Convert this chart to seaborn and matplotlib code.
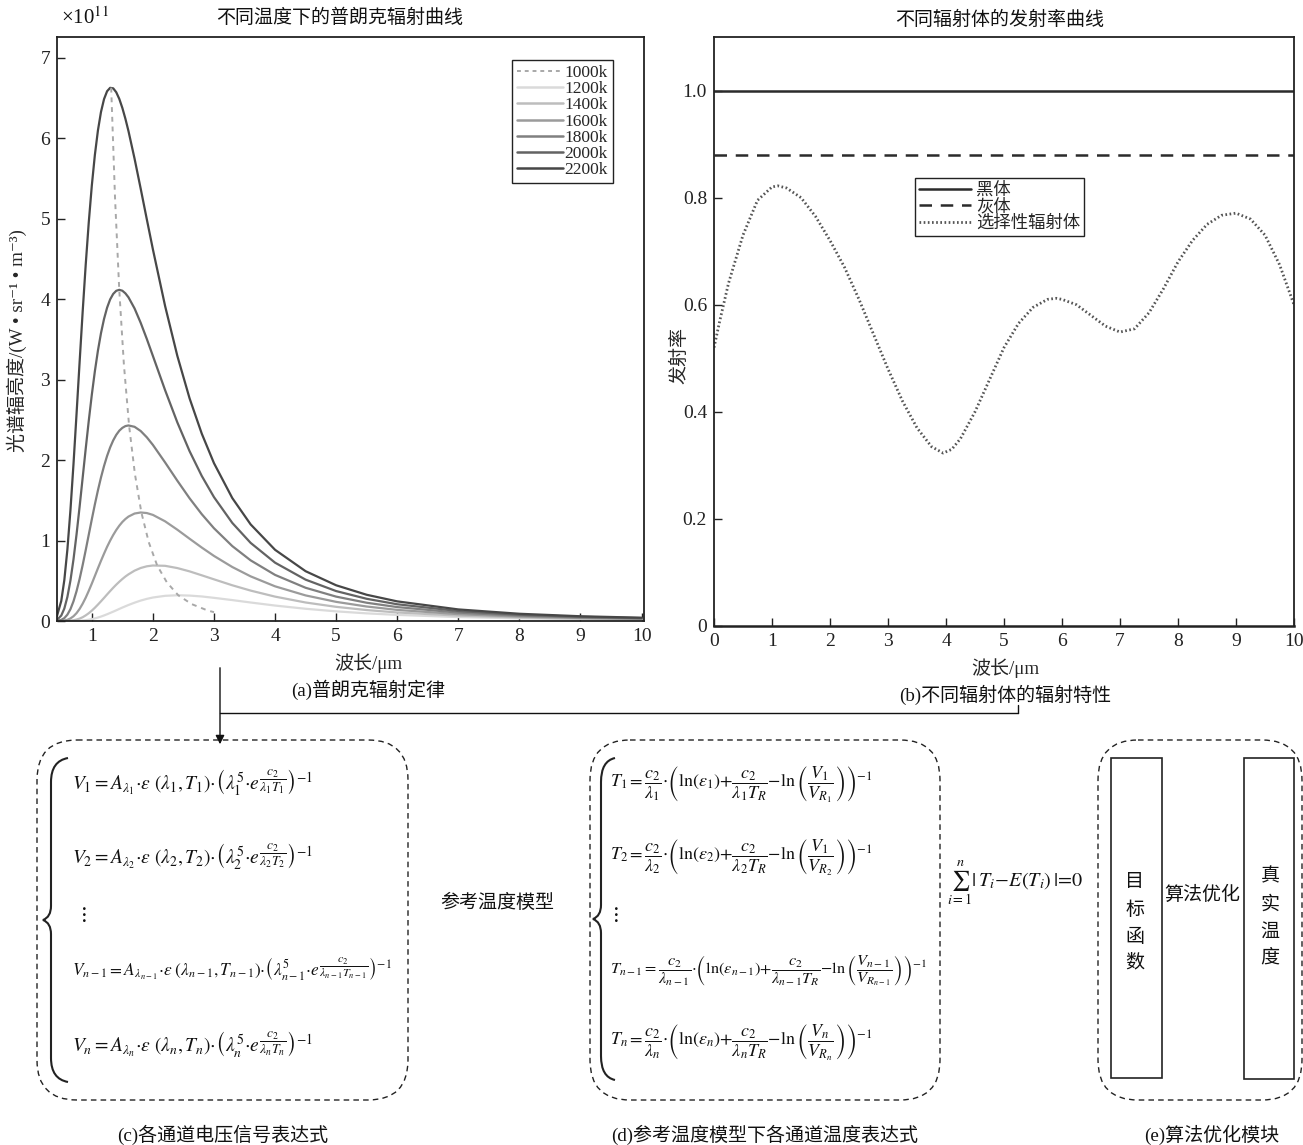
import matplotlib
matplotlib.use("Agg")
import matplotlib.pyplot as plt
import pandas as pd
import seaborn as sns
from matplotlib.lines import Line2D
from matplotlib.patches import FancyBboxPatch, PathPatch, Rectangle
from matplotlib.path import Path

# ---- values ----
# (a) spectral radiance curves, x10^11, wavelength in um
wavelength = [0.43, 0.5, 0.55, 0.6, 0.65, 0.7, 0.75, 0.8, 0.85, 0.9, 0.95, 1.0, 1.05, 1.1, 1.15,
              1.2, 1.25, 1.3, 1.35, 1.4, 1.45, 1.5, 1.55, 1.6, 1.7, 1.8, 1.9, 2.0, 2.2, 2.4, 2.6,
              2.8, 3.0, 3.3, 3.6, 4.0, 4.5, 5.0, 5.5, 6.0, 7.0, 8.0, 9.0, 10.0]
temps = ["1200k", "1400k", "1600k", "1800k", "2000k", "2200k"]
rad_1200 = [0.000, 0.000, 0.000, 0.000, 0.000, 0.001, 0.002, 0.004, 0.006, 0.010, 0.016, 0.023,
            0.032, 0.043, 0.055, 0.069, 0.084, 0.100, 0.116, 0.133, 0.150, 0.167, 0.183, 0.199,
            0.228, 0.254, 0.275, 0.292, 0.313, 0.320, 0.316, 0.305, 0.288, 0.260, 0.230, 0.192,
            0.152, 0.120, 0.095, 0.076, 0.049, 0.033, 0.023, 0.016]
rad_1400 = [0.000, 0.000, 0.001, 0.002, 0.004, 0.009, 0.018, 0.030, 0.047, 0.070, 0.097, 0.129,
            0.165, 0.204, 0.245, 0.287, 0.330, 0.372, 0.413, 0.452, 0.488, 0.522, 0.553, 0.580,
            0.626, 0.659, 0.680, 0.690, 0.686, 0.658, 0.617, 0.568, 0.518, 0.444, 0.378, 0.303,
            0.230, 0.176, 0.136, 0.106, 0.067, 0.044, 0.030, 0.021]
rad_1600 = [0.000, 0.002, 0.006, 0.015, 0.032, 0.059, 0.098, 0.150, 0.215, 0.290, 0.375, 0.465,
            0.560, 0.655, 0.748, 0.837, 0.922, 0.999, 1.069, 1.131, 1.185, 1.231, 1.268, 1.298,
            1.336, 1.349, 1.342, 1.319, 1.239, 1.135, 1.023, 0.913, 0.809, 0.671, 0.555, 0.431,
            0.318, 0.238, 0.180, 0.138, 0.085, 0.055, 0.037, 0.026]
rad_1800 = [0.002, 0.014, 0.036, 0.079, 0.147, 0.245, 0.371, 0.523, 0.695, 0.881, 1.073, 1.264,
            1.450, 1.624, 1.784, 1.927, 2.052, 2.158, 2.245, 2.314, 2.366, 2.401, 2.423, 2.431,
            2.414, 2.362, 2.284, 2.189, 1.971, 1.744, 1.526, 1.328, 1.153, 0.931, 0.754, 0.573,
            0.413, 0.303, 0.227, 0.173, 0.104, 0.067, 0.044, 0.031]
rad_2000 = [0.014, 0.068, 0.155, 0.299, 0.503, 0.766, 1.077, 1.420, 1.780, 2.141, 2.489, 2.813,
            3.105, 3.361, 3.578, 3.755, 3.895, 3.998, 4.066, 4.105, 4.117, 4.106, 4.073, 4.024,
            3.885, 3.707, 3.507, 3.295, 2.869, 2.469, 2.112, 1.803, 1.540, 1.219, 0.971, 0.725,
            0.514, 0.372, 0.276, 0.208, 0.124, 0.078, 0.052, 0.036]
rad_2200 = [0.063, 0.250, 0.509, 0.888, 1.377, 1.950, 2.575, 3.217, 3.843, 4.429, 4.956, 5.413,
            5.794, 6.098, 6.328, 6.488, 6.586, 6.628, 6.622, 6.573, 6.490, 6.378, 6.243, 6.091,
            5.747, 5.375, 4.995, 4.620, 3.915, 3.296, 2.769, 2.329, 1.962, 1.528, 1.201, 0.885,
            0.619, 0.444, 0.326, 0.244, 0.144, 0.090, 0.059, 0.041]
# dashed "1000k" line through the peaks
peak_wl = [1.317, 1.380, 1.449, 1.525, 1.610, 1.705, 1.811, 1.932, 2.070, 2.229, 2.415, 2.635, 2.898, 3.0]
peak_val = [6.63, 5.26, 4.12, 3.19, 2.43, 1.83, 1.35, 0.98, 0.69, 0.48, 0.32, 0.21, 0.13, 0.11]

# (b) emissivity curves
emis_range = [0, 10]
emis_black = [1.0, 1.0]
emis_grey = [0.88, 0.88]
emis_x = [0, 0.1, 0.25, 0.5, 0.75, 1.0, 1.1, 1.25, 1.5, 1.75, 2.0, 2.25, 2.5, 2.75, 3.0, 3.25, 3.5,
          3.75, 3.95, 4.1, 4.25, 4.5, 4.75, 5.0, 5.25, 5.5, 5.75, 5.9, 6.0, 6.25, 6.5, 6.75, 7.0,
          7.25, 7.5, 7.75, 8.0, 8.25, 8.5, 8.75, 9.0, 9.25, 9.5, 9.75, 10.0]
emis_selective = [0.52, 0.57, 0.64, 0.73, 0.795, 0.82, 0.822, 0.818, 0.80, 0.765, 0.72, 0.67, 0.61,
                  0.545, 0.48, 0.42, 0.37, 0.335, 0.323, 0.33, 0.35, 0.40, 0.46, 0.52, 0.565, 0.595,
                  0.61, 0.612, 0.61, 0.60, 0.58, 0.56, 0.549, 0.555, 0.585, 0.63, 0.68, 0.72, 0.75,
                  0.767, 0.771, 0.76, 0.73, 0.675, 0.60]

sns.set_theme(style="ticks")
plt.rcParams["font.family"] = ["Liberation Serif", "Noto Sans CJK SC", "DejaVu Sans"]
plt.rcParams["mathtext.fontset"] = "stix"
plt.rcParams["axes.unicode_minus"] = False

W, H = 1303, 1145
fig = plt.figure(figsize=(W / 100, H / 100), dpi=100)
FS = 13.7


# axes rectangle from pixel corners
def px_rect(x0, y0, x1, y1):
    return [x0 / W, 1 - y1 / H, (x1 - x0) / W, (y1 - y0) / H]


def style_axes(ax):
    ax.tick_params(direction="in", length=6, width=1, labelsize=14, top=False, right=False,
                   colors="#222222", pad=5)
    for s in ax.spines.values():
        s.set_linewidth(1.3)
        s.set_color("#222222")


# ---- (a) Planck curves ----
ax1 = fig.add_axes(px_rect(57, 37, 644, 621))
grays = {"1200k": "#dadada", "1400k": "#bdbdbd", "1600k": "#9b9b9b",
         "1800k": "#808080", "2000k": "#636363", "2200k": "#474747"}
planck = pd.DataFrame({
    "wl": wavelength * len(temps),
    "val": rad_1200 + rad_1400 + rad_1600 + rad_1800 + rad_2000 + rad_2200,
    "T": [t for t in temps for _ in wavelength],
})
sns.lineplot(data=planck, x="wl", y="val", hue="T", palette=grays, lw=1.6, ax=ax1,
             legend=False, estimator=None, sort=False)
sns.lineplot(x=peak_wl, y=peak_val, ax=ax1, color="#a8a8a8", lw=1.4, ls=(0, (2.5, 2.5)),
             estimator=None, zorder=5)
ax1.set_xlim(0.43, 10.04)
ax1.set_ylim(0, 7.26)
ax1.set_xticks(range(1, 11))
ax1.set_yticks(range(0, 8))
style_axes(ax1)
ax1.set_xlabel("波长/μm", fontsize=FS)
ax1.xaxis.set_label_coords(0.53, -0.055)
ax1.set_ylabel("光谱辐亮度/(W • sr⁻¹ • m⁻³)", fontsize=FS)
ax1.yaxis.set_label_coords(-0.051, 0.48)

handles = [Line2D([], [], color="#a8a8a8", lw=1.4, ls=(0, (2, 2)))]
handles += [Line2D([], [], color=grays[t], lw=1.8) for t in temps]
leg = ax1.legend(handles, ["1000k"] + temps, loc="upper right", bbox_to_anchor=(0.947, 0.961),
                 fontsize=12.5, fancybox=False, edgecolor="#222222", framealpha=1,
                 labelspacing=0.0, handlelength=2.6, handletextpad=0.1, borderpad=0.3,
                 borderaxespad=0)
leg.get_frame().set_linewidth(1.0)

# ---- (b) emissivity ----
ax2 = fig.add_axes(px_rect(714, 37, 1294, 626))
sns.lineplot(x=emis_range, y=emis_black, ax=ax2, color="#2b2b2b", lw=1.8, label="黑体")
sns.lineplot(x=emis_range, y=emis_grey, ax=ax2, color="#2b2b2b", lw=1.8, ls=(0, (5, 3.5)),
             label="灰体")
sns.lineplot(x=emis_x, y=emis_selective, ax=ax2, color="#555555", lw=2.0, ls=(0, (0.6, 0.9)),
             label="选择性辐射体", estimator=None, sort=False)
ax2.set_xlim(0, 10)
ax2.set_ylim(0, 1.1)
ax2.set_xticks(range(0, 11))
ax2.set_yticks([0, 0.2, 0.4, 0.6, 0.8, 1.0])
ax2.set_yticklabels(["0", "0.2", "0.4", "0.6", "0.8", "1.0"])
style_axes(ax2)
ax2.spines["bottom"].set_linewidth(1.8)
ax2.set_xlabel("波长/μm", fontsize=FS)
ax2.xaxis.set_label_coords(0.502, -0.054)
ax2.set_ylabel("发射率", fontsize=FS)
ax2.yaxis.set_label_coords(-0.045, 0.46)
leg2 = ax2.legend(loc="upper left", bbox_to_anchor=(0.3466, 0.7606), fontsize=12.5,
                  fancybox=False, edgecolor="#222222", framealpha=1, labelspacing=0.0,
                  handlelength=3.0, handletextpad=0.25, borderpad=0.25, borderaxespad=0)
leg2.get_frame().set_linewidth(1.0)

# ---- overlay in pixel coordinates for captions and the diagram ----
bg = fig.add_axes([0, 0, 1, 1])
bg.set_xlim(0, W)
bg.set_ylim(H, 0)
bg.axis("off")


def txt(x, y, s, size=FS, **kw):
    bg.text(x, y, s, fontsize=size, ha=kw.pop("ha", "center"), va="center", color="#111111", **kw)


txt(85, 18, "×10$^{11}$", size=15)
txt(340, 18, "不同温度下的普朗克辐射曲线")
txt(1000, 20, "不同辐射体的发射率曲线")
txt(368, 690, "(a)普朗克辐射定律")
txt(1005, 695, "(b)不同辐射体的辐射特性")
txt(223, 1135, "(c)各通道电压信号表达式")
txt(765, 1135, "(d)参考温度模型下各通道温度表达式")
txt(1212, 1135, "(e)算法优化模块")
txt(497, 903, "参考温度模型")

# connectors
bg.plot([220, 1018], [713, 713], color="#111111", lw=1)
bg.plot([1018, 1018], [705, 713], color="#111111", lw=1)
bg.annotate("", xy=(220, 747), xytext=(220, 665),
            arrowprops=dict(arrowstyle="-|>", color="#111111", lw=1, mutation_scale=13))

# dashed rounded boxes
for x0, x1 in [(37, 408), (590, 940), (1098, 1302)]:
    bg.add_patch(FancyBboxPatch((x0, 740), x1 - x0, 360, boxstyle="round,pad=0,rounding_size=40",
                                fill=False, ec="#222222", lw=1.0, ls=(0, (4, 3))))


# left curly braces
def brace(x, tip, arm, top, bot):
    mid = (top + bot) / 2
    verts = [(arm, top), (x, top + 3), (x, top + 24), (x, mid - 14), (x, mid - 3), (tip, mid),
             (x, mid + 3), (x, mid + 14), (x, bot - 24), (x, bot - 3), (arm, bot)]
    codes = [Path.MOVETO, Path.CURVE3, Path.CURVE3, Path.LINETO, Path.CURVE3, Path.CURVE3,
             Path.CURVE3, Path.CURVE3, Path.LINETO, Path.CURVE3, Path.CURVE3]
    bg.add_patch(PathPatch(Path(verts, codes), fill=False, ec="#222222", lw=1.5))


brace(51, 43, 68, 758, 1082)
brace(601, 593, 615, 758, 1080)

# equations of box (c); {\cdot}, {+}, {-} keep the operators tight like the original
eq_c = [
    (783, 14, r"$V_1 = A_{\lambda_1}{\cdot}\varepsilon\ (\lambda_1,T_1){\cdot}\left(\lambda_{1}^{5}{\cdot}e^{\dfrac{c_2}{\lambda_1 T_1}}\right)^{-1}$"),
    (857, 14, r"$V_2 = A_{\lambda_2}{\cdot}\varepsilon\ (\lambda_2,T_2){\cdot}\left(\lambda_{2}^{5}{\cdot}e^{\dfrac{c_2}{\lambda_2 T_2}}\right)^{-1}$"),
    (968, 12.4, r"$V_{n-1} = A_{\lambda_{n-1}}{\cdot}\varepsilon\ (\lambda_{n-1},T_{n-1}){\cdot}\left(\lambda_{n-1}^{5}{\cdot}e^{\dfrac{c_2}{\lambda_{n-1} T_{n-1}}}\right)^{-1}$"),
    (1045, 14, r"$V_n = A_{\lambda_n}{\cdot}\varepsilon\ (\lambda_n,T_n){\cdot}\left(\lambda_{n}^{5}{\cdot}e^{\dfrac{c_2}{\lambda_n T_n}}\right)^{-1}$"),
]
for y, size, s in eq_c:
    txt(72, y, s, size=size, ha="left")
txt(82, 915, r"$\vdots$", size=15)

# equations of box (d)
eq_d = [
    (785, 13, r"$T_1 = \dfrac{c_2}{\lambda_1}{\cdot}\left(\ln(\varepsilon_1){+}\dfrac{c_2}{\lambda_1 T_R}{-}\ln\left(\dfrac{V_1}{V_{R_1}}\right)\right)^{-1}$"),
    (858, 13, r"$T_2 = \dfrac{c_2}{\lambda_2}{\cdot}\left(\ln(\varepsilon_2){+}\dfrac{c_2}{\lambda_2 T_R}{-}\ln\left(\dfrac{V_1}{V_{R_2}}\right)\right)^{-1}$"),
    (970, 11.8, r"$T_{n-1} = \dfrac{c_2}{\lambda_{n-1}}{\cdot}\left(\ln(\varepsilon_{n-1}){+}\dfrac{c_2}{\lambda_{n-1} T_R}{-}\ln\left(\dfrac{V_{n-1}}{V_{R_{n-1}}}\right)\right)^{-1}$"),
    (1043, 13, r"$T_n = \dfrac{c_2}{\lambda_n}{\cdot}\left(\ln(\varepsilon_n){+}\dfrac{c_2}{\lambda_n T_R}{-}\ln\left(\dfrac{V_n}{V_{R_n}}\right)\right)^{-1}$"),
]
for y, size, s in eq_d:
    txt(610, y, s, size=size, ha="left")
txt(614, 915, r"$\vdots$", size=15)
txt(947, 883, r"$\sum_{i=1}^{n}|\,T_i\!-\!E(T_i)\,|\!=\!0$", size=14.5, ha="left")

# box (e)
bg.add_patch(Rectangle((1111, 758), 51, 320, fill=False, ec="#222222", lw=1.2))
bg.add_patch(Rectangle((1244, 758), 50, 321, fill=False, ec="#222222", lw=1.2))
for ch, y in zip("目标函数", [882, 910, 937, 963]):
    txt(1135, y, ch)
for ch, y in zip("真实温度", [877, 905, 932, 958]):
    txt(1270, y, ch)
txt(1202, 895, "算法优化")

fig.savefig("out.png", dpi=100)
